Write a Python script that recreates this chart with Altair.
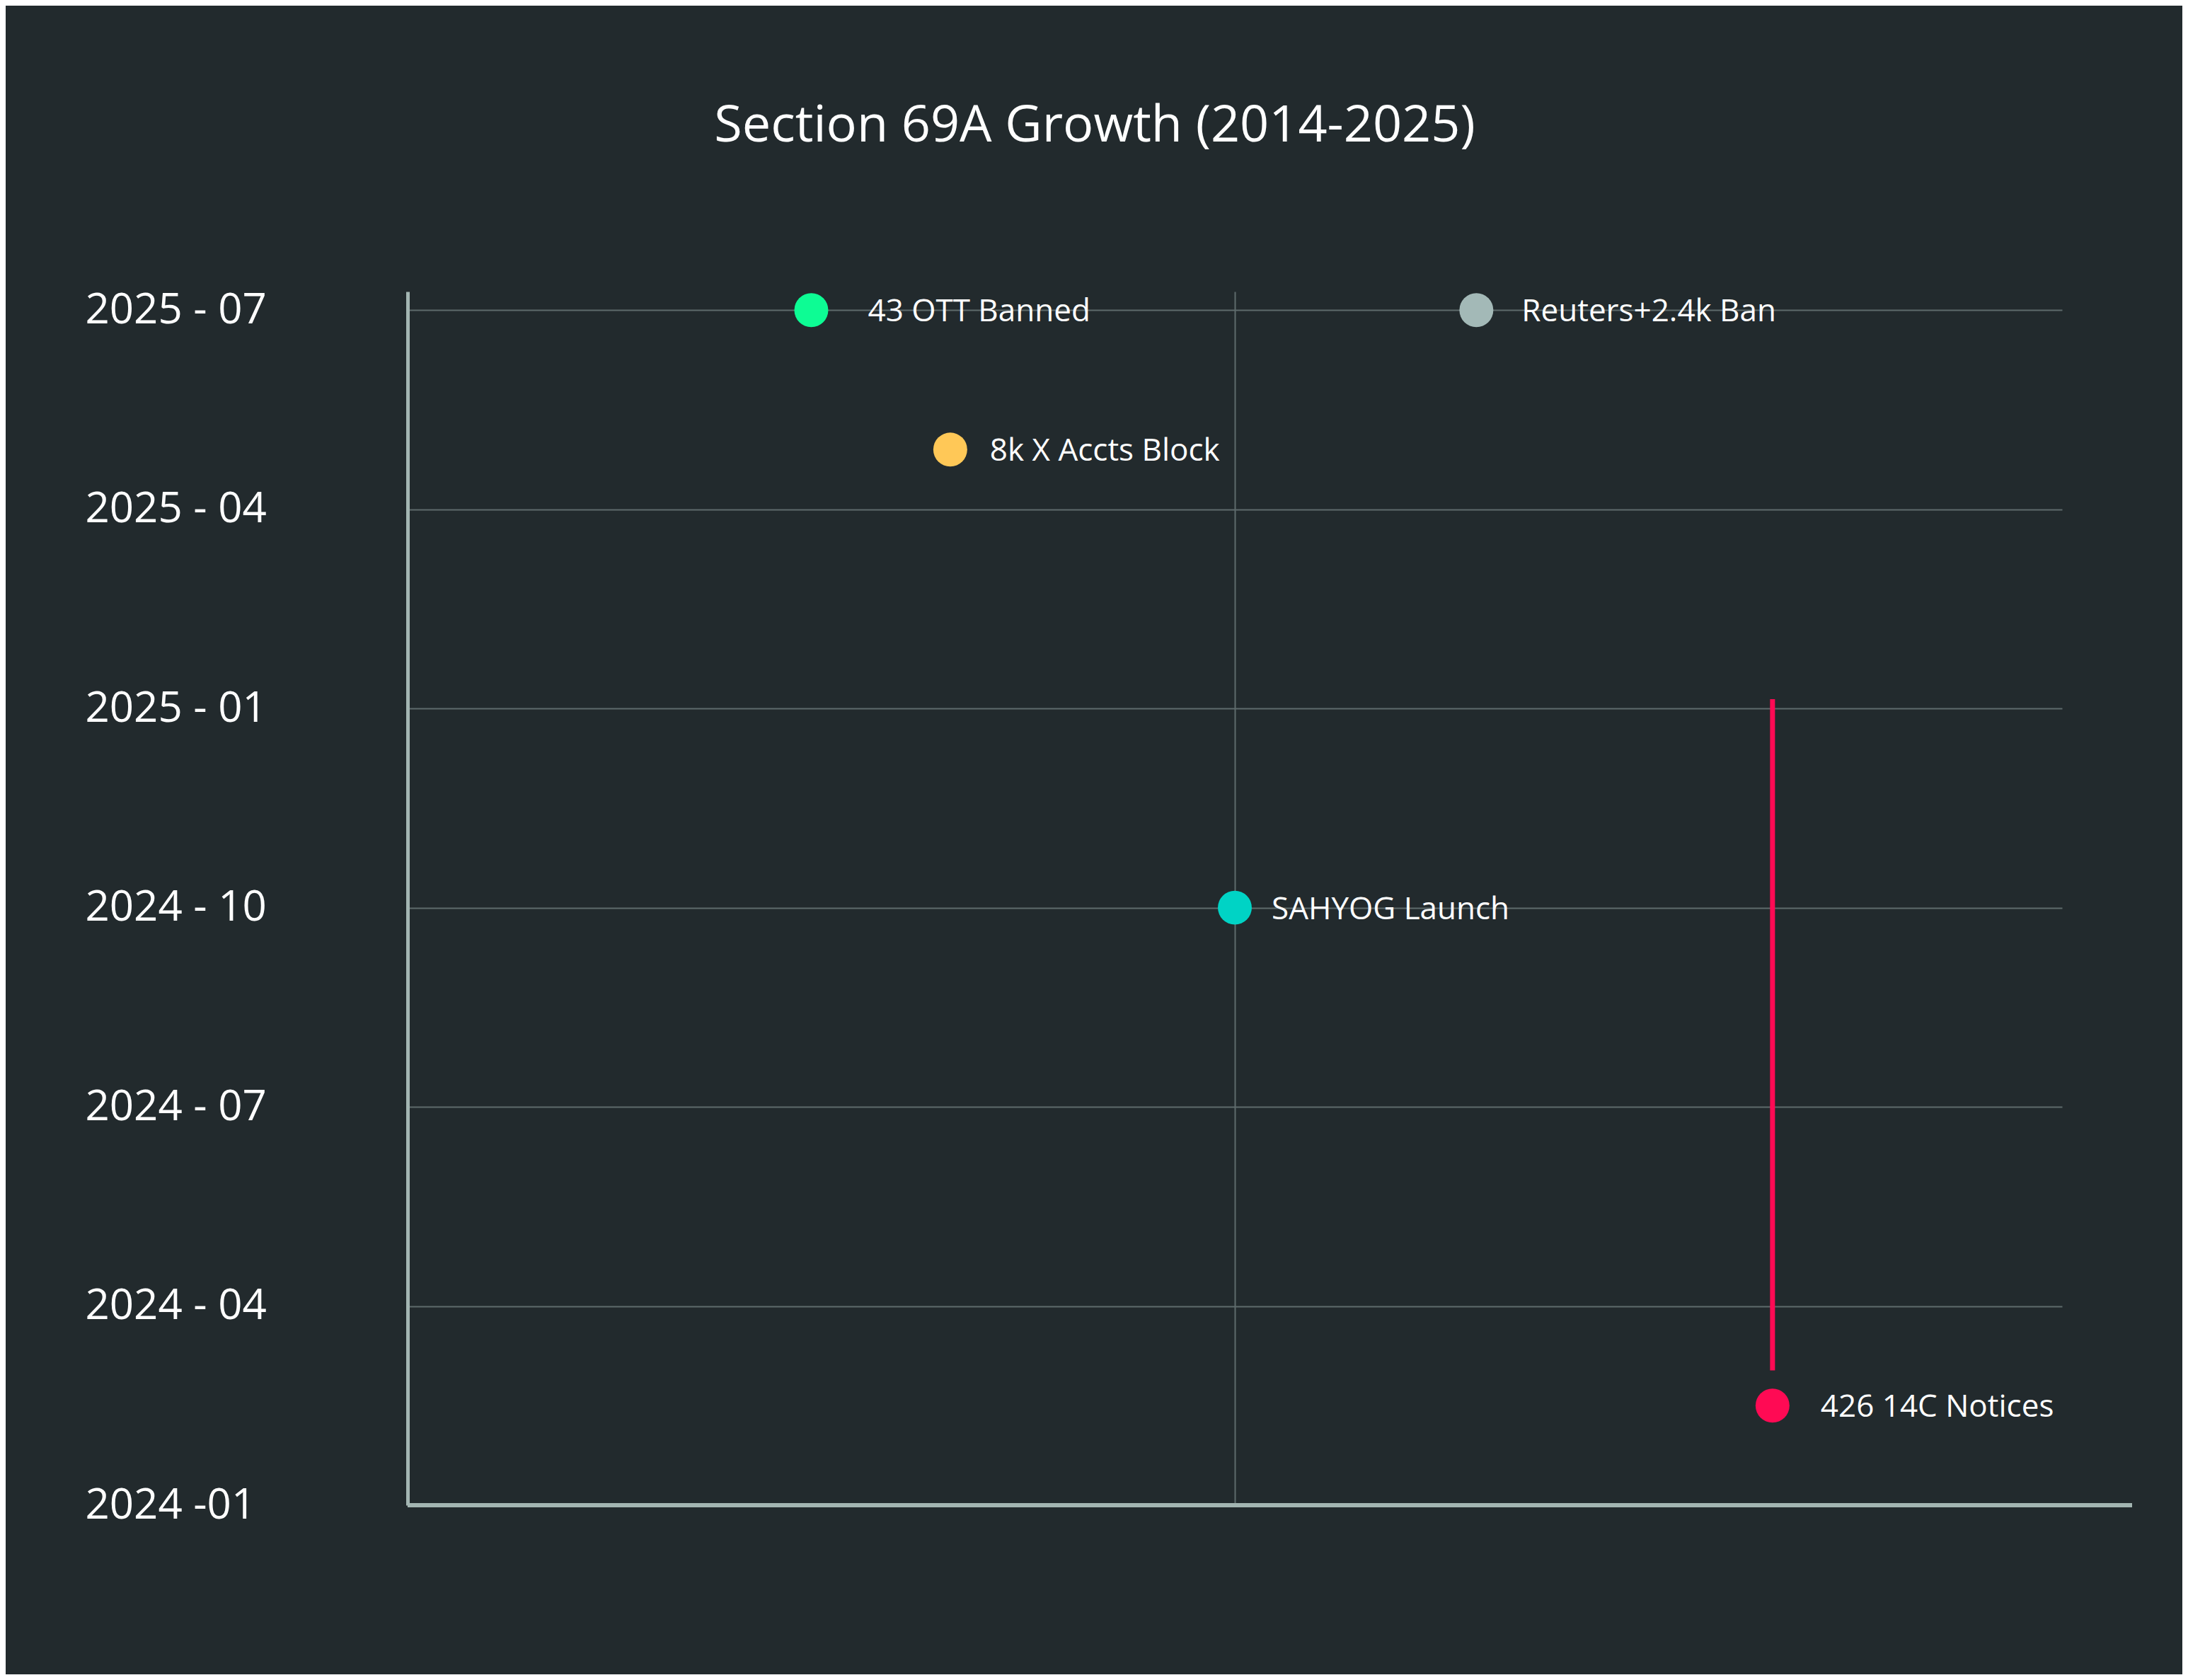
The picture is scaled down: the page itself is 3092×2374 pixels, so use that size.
import altair as alt
import pandas as pd

# ---- data ----
events = ["43 OTT Banned", "Reuters+2.4k Ban", "8k X Accts Block", "SAHYOG Launch", "426 14C Notices"]
x_pos = [24.4, 64.6, 32.8, 50.0, 82.5]          # horizontal position (0-100 scale)
months = [18.0, 18.0, 15.9, 9.0, 1.5]            # months since 2024-01
colors = ["#0DFC94", "#A3B9B7", "#FFC857", "#00D3C5", "#FF0A54"]
label_gap = [80, 64, 56, 52, 68]                 # text gap after each dot (px)

rule_x = [82.5]
rule_start = [2.03]
rule_end = [12.14]

tick_months = [0, 3, 6, 9, 12, 15, 18]
tick_labels = ["2024 -01", "2024 - 04", "2024 - 07", "2024 - 10", "2025 - 01", "2025 - 04", "2025 - 07"]

BG = "#222A2D"
GRID = "#5E6B6C"
AXIS = "#A3B5B2"
FONT = "Open Sans"

W, H = 2338, 1715

df = pd.DataFrame({"event": events, "x": x_pos, "m": months, "color": colors})
rule_df = pd.DataFrame({"x": rule_x, "m1": rule_start, "m2": rule_end})

label_expr = "[" + ",".join("'%s'" % t for t in tick_labels) + "][round(datum.value/3)]"

xscale = alt.Scale(domain=[0, 100], nice=False, zero=False)
yscale = alt.Scale(domain=[0, 18.28], nice=False, zero=False)

xaxis = alt.Axis(values=[50], grid=True, labels=False, ticks=False, domain=False, title=None,
                 gridColor=GRID, gridWidth=2)
yaxis = alt.Axis(values=tick_months, labelExpr=label_expr, grid=True, gridColor=GRID, gridWidth=2,
                 ticks=False, tickSize=0, domain=True, domainColor=AXIS, domainWidth=5,
                 labelAlign="left", labelBaseline="middle", labelPadding=456, labelLimit=0,
                 labelFontSize=60, labelColor="white", labelFont=FONT, labelOverlap=False,
                 title=None)

base = alt.Chart(df)

xline = alt.Chart(pd.DataFrame({"a": [0]})).mark_rule(color=AXIS, strokeWidth=6).encode(
    x=alt.value(0), x2=alt.value(W + 99), y=alt.value(H)
)

rule = alt.Chart(rule_df).mark_rule(color="#FF0A54", strokeWidth=7).encode(
    x=alt.X("x:Q", scale=xscale, axis=xaxis),
    y=alt.Y("m1:Q", scale=yscale, axis=yaxis),
    y2="m2:Q",
)

points = base.mark_circle(size=2300, opacity=1).encode(
    x=alt.X("x:Q", scale=xscale, axis=xaxis),
    y=alt.Y("m:Q", scale=yscale, axis=yaxis),
    color=alt.Color("color:N", scale=None),
)

label_layers = []
for ev, gap in zip(events, label_gap):
    label_layers.append(
        base.transform_filter(alt.datum.event == ev)
        .mark_text(align="left", baseline="middle", dx=gap, dy=3, fontSize=44,
                   font=FONT, color="white")
        .encode(
            x=alt.X("x:Q", scale=xscale, axis=xaxis),
            y=alt.Y("m:Q", scale=yscale, axis=yaxis),
            text="event:N",
        )
    )

chart = alt.layer(rule, points, *label_layers, xline).properties(
    width=W,
    height=H,
    title=alt.TitleParams(
        "Section 69A Growth (2014-2025)",
        fontSize=72, font=FONT, fontWeight="normal", color="white",
        anchor="middle", dx=-198, offset=193,
    ),
    autosize=alt.AutoSizeParams(type="none"),
    padding={"left": 568, "top": 404, "right": 170, "bottom": 239},
    background=BG,
).configure_view(stroke=None)

chart.save("out.html", embed_options={"renderer": "svg", "actions": False})
